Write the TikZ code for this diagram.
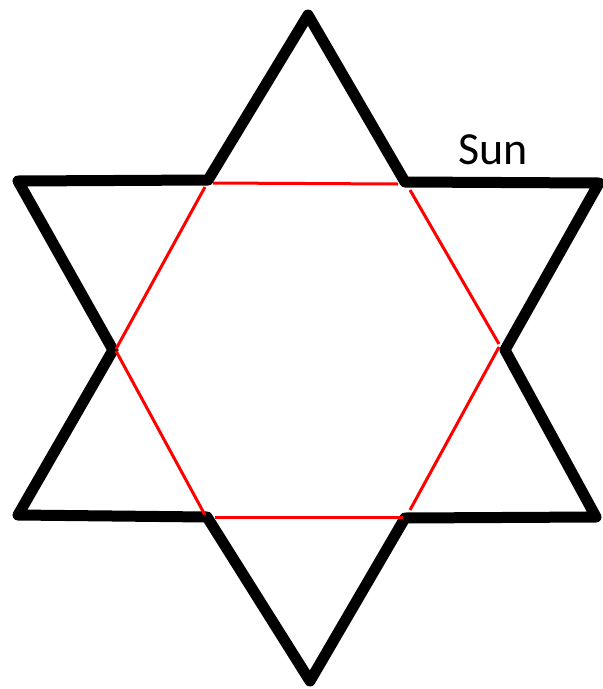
\documentclass[tikz,border=0pt]{standalone}
\usepackage{fontspec}
\setmainfont{Carlito}
\begin{document}
\begin{tikzpicture}[x=1pt,y=-1pt,
  starline/.style={line width=11pt,line join=round,line cap=round,black},
  hexline/.style={line width=3pt,red}]
\useasboundingbox (0,0) rectangle (603,689);
\coordinate (t) at (308,15);
\coordinate (uri) at (405,182);
\coordinate (ro) at (599,183);
\coordinate (ri) at (505,350);
\coordinate (lro) at (596,517);
\coordinate (lri) at (405,518);
\coordinate (b) at (310,681);
\coordinate (lli) at (207,517);
\coordinate (llo) at (18,515);
\coordinate (li) at (113,350);
\coordinate (ulo) at (18,181);
\coordinate (uli) at (208,180);
\draw[starline] (t) -- (uri) -- (ro) -- (ri) -- (lro) -- (lri) -- (b) -- (lli) -- (llo) -- (li) -- (ulo) -- (uli) -- cycle;
% red hexagon
\coordinate (h1a) at (213,183); \coordinate (h1b) at (398,184);
\coordinate (h2a) at (410,190); \coordinate (h2b) at (499,344);
\coordinate (h3a) at (499,347); \coordinate (h3b) at (410,510);
\coordinate (h4a) at (403,517); \coordinate (h4b) at (215,517);
\coordinate (h5a) at (205,515); \coordinate (h5b) at (116,351);
\coordinate (h6a) at (116,349); \coordinate (h6b) at (205,187);
\draw[hexline] (h1a) -- (h1b);
\draw[hexline] (h2a) -- (h2b);
\draw[hexline] (h3a) -- (h3b);
\draw[hexline] (h4a) -- (h4b);
\draw[hexline] (h5a) -- (h5b);
\draw[hexline] (h6a) -- (h6b);
\node[font=\fontsize{46}{55}\selectfont,anchor=base,inner sep=0pt] (sun) at (493,164) {Sun};
\end{tikzpicture}
\end{document}
